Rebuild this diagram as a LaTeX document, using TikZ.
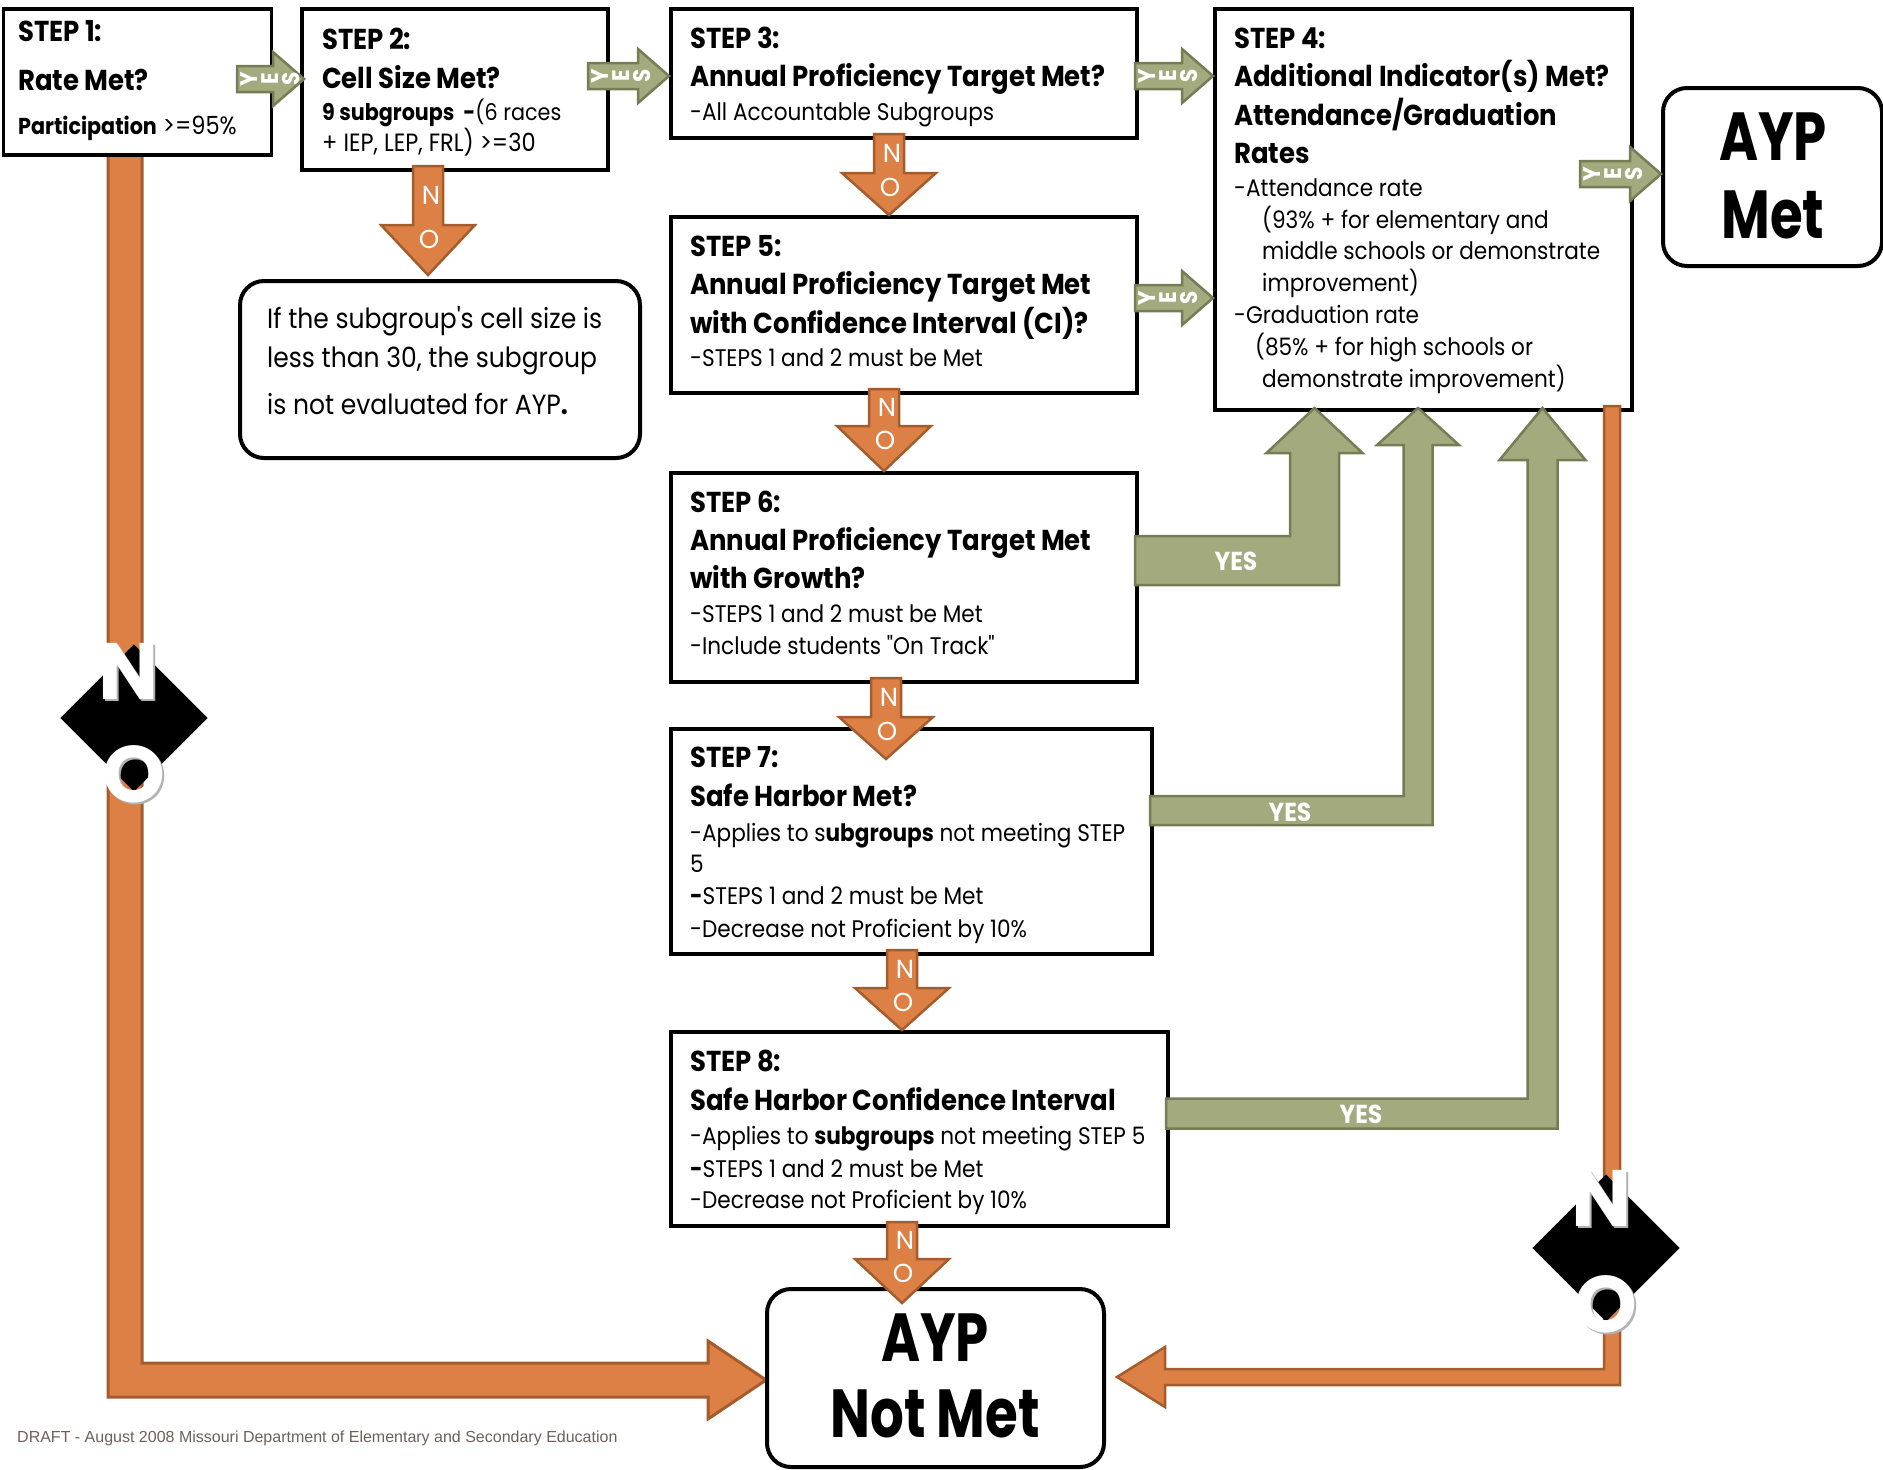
\documentclass[tikz,border=0pt]{standalone}
\usepackage{fontspec}
\setmainfont{Poppins}[FakeStretch=0.9]
\newfontfamily\plainf{Poppins}[FakeStretch=0.9]
\newfontfamily\bigf{Poppins}[FakeStretch=0.78]
\newfontfamily\nof{Poppins}
\newfontfamily\ftf{Liberation Sans}
\usetikzlibrary{calc}
\definecolor{grn}{RGB}{163,170,126}
\definecolor{grnd}{RGB}{118,124,86}
\definecolor{org}{RGB}{221,128,70}
\definecolor{orgd}{RGB}{165,92,44}
\definecolor{ftc}{RGB}{112,96,88}
\tikzset{
 box/.style={draw=black, line width=3.5pt, fill=white, anchor=north west, inner sep=0},
 rbox/.style={box, rounded corners=24pt, line width=4pt},
 hd/.style={anchor=base west, inner sep=0, font=\fontsize{28.8}{34}\selectfont\bfseries},
 hds/.style={anchor=base west, inner sep=0, font=\fontsize{23}{28}\selectfont},
 tx/.style={anchor=base west, inner sep=0, font=\fontsize{24}{28}\selectfont},
 nt/.style={anchor=base west, inner sep=0, font=\fontsize{27.8}{32}\selectfont},
 big/.style={anchor=base, inner sep=0, font=\bigf\fontsize{68}{70}\selectfont\bfseries},
 noar/.style={fill=org, draw=orgd, line width=2.5pt, line join=miter},
 yesar/.style={fill=grn, draw=grnd, line width=2.5pt, line join=miter},
 nolbl/.style={text=white, inner sep=0, font=\nof\fontsize{26}{26}\selectfont},
 yl/.style={rotate=90, text=white, inner sep=0, font=\fontsize{24}{24}\selectfont\bfseries},
 ylbig/.style={text=white, inner sep=0, font=\fontsize{26}{26}\selectfont\bfseries},
 dia/.style={fill=black, rotate=45, minimum size=104pt, inner sep=0},
 bigno/.style={text=white, inner sep=0, font=\nof\fontsize{80}{80}\selectfont\bfseries},
 bignosh/.style={text=black!30, inner sep=0, font=\nof\fontsize{80}{80}\selectfont\bfseries},
}
% small NO down arrow: start, tip, head length
\newcommand\noarrow[3]{%
 \filldraw[noar] let \p1=(#1), \p2=(#2) in
  (\x1-15pt,\y1) -- (\x1+15pt,\y1) -- (\x1+15pt,\y2+#3pt) -- (\x1+47pt,\y2+#3pt)
  -- (\x1,\y2) -- (\x1-47pt,\y2+#3pt) -- (\x1-15pt,\y2+#3pt) -- cycle
  (\x1+3pt,{(\y1+\y2+#3pt)/2}) node[nolbl]{N}
  (\x1+1pt,\y2+#3pt-14pt) node[nolbl]{O};}
% small YES right arrow: start, tip
\newcommand\yesarrow[2]{%
 \filldraw[yesar] let \p1=(#1), \p2=(#2) in
  (\x1,\y1+13pt) -- (\x2-31pt,\y1+13pt) -- (\x2-31pt,\y1+27pt) -- (\x2,\y1)
  -- (\x2-31pt,\y1-27pt) -- (\x2-31pt,\y1-13pt) -- (\x1,\y1-13pt) -- cycle
  (\x1+12pt,\y1) node[yl]{Y} (\x1+33pt,\y1) node[yl]{E} (\x1+54pt,\y1) node[yl]{S};}
% big YES L arrow: start, tip, half width, head half, head length
\newcommand\yesL[5]{%
 \filldraw[yesar] let \p1=(#1), \p2=(#2) in
  (\x1,\y1+#3pt) -- (\x2-#3pt,\y1+#3pt) -- (\x2-#3pt,\y2-#5pt) -- (\x2-#4pt,\y2-#5pt)
  -- (\x2,\y2) -- (\x2+#4pt,\y2-#5pt) -- (\x2+#3pt,\y2-#5pt) -- (\x2+#3pt,\y1-#3pt)
  -- (\x1,\y1-#3pt) -- cycle;}
\begin{document}
\begin{tikzpicture}[x=1pt,y=-1pt]
\useasboundingbox (0,0) rectangle (1883,1470);

% connector coordinates
\coordinate (nLa) at (125,151);  \coordinate (nLb) at (766,1380);
\coordinate (nRa) at (1612,406); \coordinate (nRb) at (1117,1377);

% big orange NO path (left)
\filldraw[noar, line width=3pt] let \p1=(nLa), \p2=(nLb) in
  (\x1-17pt,\y1) -- (\x1+17pt,\y1) -- (\x1+17pt,\y2+17pt) -- (\x2-58pt,\y2+17pt)
  -- (\x2-58pt,\y2+39pt) -- (\x2,\y2) -- (\x2-58pt,\y2-39pt) -- (\x2-58pt,\y2-17pt)
  -- (\x1-17pt,\y2-17pt) -- cycle;

% boxes
\node[box, minimum width=268pt, minimum height=146pt] (s1) at (1.75,7) {};
\node[box, minimum width=306pt, minimum height=161pt] (s2) at (300,7) {};
\node[box, minimum width=466pt, minimum height=129pt] (s3) at (669,7) {};
\node[box, minimum width=417pt, minimum height=401pt] (s4) at (1213,7) {};
\node[box, minimum width=466pt, minimum height=176pt] (s5) at (669,215) {};
\node[rbox, minimum width=400pt, minimum height=177pt] (note) at (238,279) {};
\node[box, minimum width=466pt, minimum height=209pt] (s6) at (669,471) {};
\node[box, minimum width=481pt, minimum height=225pt] (s7) at (669,727) {};
\node[box, minimum width=497pt, minimum height=194pt] (s8) at (669,1030) {};
\node[rbox, minimum width=219pt, minimum height=178pt] (met) at (1661,86) {};
\node[rbox, minimum width=337pt, minimum height=178pt] (notmet) at (765,1287) {};

% step 1
\node[hd] (t1a) at (18,41) {STEP 1:};
\node[hd] (t1b) at (18,90) {Rate Met?};
\node[hds] (t1c) at (18,134) {\bfseries Participation\mdseries\fontsize{25}{28}\selectfont\ >=95\%};
% step 2
\node[hd] (t2a) at (322,49) {STEP 2:};
\node[hd] (t2b) at (322,88) {Cell Size Met?};
\node[hds] (t2c) at (322,120) {\bfseries 9 subgroups\ \ -\mdseries(6 races};
\node[hds, font=\fontsize{25}{28}\selectfont] (t2d) at (322,151) {+ IEP, LEP, FRL) >=30};
% step 3
\node[hd] (t3a) at (690,48) {STEP 3:};
\node[hd] (t3b) at (690,86) {Annual Proficiency Target Met?};
\node[tx] (t3c) at (690,120) {-All Accountable Subgroups};
% step 4
\node[hd] (t4a) at (1234,48) {STEP 4:};
\node[hd] (t4b) at (1234,86) {Additional Indicator(s) Met?};
\node[hd] (t4c) at (1234,125) {Attendance/Graduation};
\node[hd] (t4d) at (1234,163) {Rates};
\node[tx] (t4e) at (1234,196) {-Attendance rate};
\node[tx] (t4f) at (1262,228) {(93\% + for elementary and};
\node[tx] (t4g) at (1262,259) {middle schools or demonstrate};
\node[tx] (t4h) at (1262,291) {improvement)};
\node[tx] (t4i) at (1234,323) {-Graduation rate};
\node[tx] (t4j) at (1255,355) {(85\% + for high schools or};
\node[tx] (t4k) at (1262,387) {demonstrate improvement)};
% step 5
\node[hd] (t5a) at (690,256) {STEP 5:};
\node[hd] (t5b) at (690,294) {Annual Proficiency Target Met};
\node[hd] (t5c) at (690,333) {with Confidence Interval (CI)?};
\node[tx] (t5d) at (690,366) {-STEPS 1 and 2 must be Met};
% step 6
\node[hd] (t6a) at (690,512) {STEP 6:};
\node[hd] (t6b) at (690,550) {Annual Proficiency Target Met};
\node[hd] (t6c) at (690,588) {with Growth?};
\node[tx] (t6d) at (690,622) {-STEPS 1 and 2 must be Met};
\node[tx] (t6e) at (690,654) {-Include students {\plainf"}On Track{\plainf"}};
% step 7
\node[hd] (t7a) at (690,767) {STEP 7:};
\node[hd] (t7b) at (690,806) {Safe Harbor Met?};
\node[tx] (t7c) at (690,841) {-Applies to s{\bfseries ubgroups} not meeting STEP};
\node[tx] (t7d) at (690,872) {5};
\node[tx] (t7e) at (690,904) {{\bfseries -}STEPS 1 and 2 must be Met};
\node[tx] (t7f) at (690,937) {-Decrease not Proficient by 10\%};
% step 8
\node[hd] (t8a) at (690,1071) {STEP 8:};
\node[hd] (t8b) at (690,1110) {Safe Harbor Confidence Interval};
\node[tx] (t8c) at (690,1144) {-Applies to {\bfseries subgroups} not meeting STEP 5};
\node[tx] (t8d) at (690,1177) {{\bfseries -}STEPS 1 and 2 must be Met};
\node[tx] (t8e) at (690,1208) {-Decrease not Proficient by 10\%};
% note
\node[nt] (na) at (267,328) {If the subgroup{\plainf'}s cell size is};
\node[nt] (nb) at (267,367) {less than 30, the subgroup};
\node[nt] (nc) at (267,414) {is not evaluated for AYP{\bfseries .}};
% outcomes
\node[big] (ma) at (1773,160) {AYP};
\node[big] (mb) at (1773,238) {Met};
\node[big] (nma) at (935,1361) {AYP};
\node[big] (nmb) at (935,1437) {Not Met};
% footer
\node[anchor=base west, inner sep=0, text=ftc, font=\ftf\fontsize{16}{17}\selectfont] (ft) at (17,1442)
  {DRAFT - August 2008 Missouri Department of Elementary and Secondary Education};

% small NO arrows
\coordinate (n2a) at (428,166);  \coordinate (n2b) at (428,275);
\coordinate (n3a) at (889,134);  \coordinate (n3b) at (889,215);
\coordinate (n5a) at (884,389);  \coordinate (n5b) at (884,471);
\coordinate (n6a) at (886,678);  \coordinate (n6b) at (886,759);
\coordinate (n7a) at (902,950);  \coordinate (n7b) at (902,1030);
\coordinate (n8a) at (902,1222); \coordinate (n8b) at (902,1303);
\noarrow{n2a}{n2b}{50}
\noarrow{n3a}{n3b}{42}
\noarrow{n5a}{n5b}{45}
\noarrow{n6a}{n6b}{42}
\noarrow{n7a}{n7b}{42}
\noarrow{n8a}{n8b}{44}

% small YES arrows
\coordinate (y12a) at (237,79);  \coordinate (y12b) at (304,79);
\coordinate (y23a) at (588,76);  \coordinate (y23b) at (669,76);
\coordinate (y34a) at (1135,76); \coordinate (y34b) at (1213,76);
\coordinate (y54a) at (1135,298);\coordinate (y54b) at (1213,298);
\coordinate (y4ma) at (1580,174);\coordinate (y4mb) at (1661,174);
\yesarrow{y12a}{y12b}
\yesarrow{y23a}{y23b}
\yesarrow{y34a}{y34b}
\yesarrow{y54a}{y54b}
\yesarrow{y4ma}{y4mb}

% big YES arrows
\coordinate (g6a) at (1135,560.5); \coordinate (g6b) at (1314.5,408);
\coordinate (g7a) at (1150,810.5); \coordinate (g7b) at (1418,408);
\coordinate (g8a) at (1166,1113.5);\coordinate (g8b) at (1542.5,408);
\yesL{g6a}{g6b}{24.5}{48}{45}
\yesL{g7a}{g7b}{14.5}{41}{37}
\yesL{g8a}{g8b}{15}{43}{52}
\node[ylbig] (yes6) at (1236,561) {YES};
\node[ylbig] (yes7) at (1290,812) {YES};
\node[ylbig] (yes8) at (1361,1114) {YES};

% right orange NO path
\filldraw[noar] let \p1=(nRa), \p2=(nRb) in
  (\x1+8pt,\y1) -- (\x1-8pt,\y1) -- (\x1-8pt,\y2+8pt) -- (\x2+48pt,\y2+8pt)
  -- (\x2+48pt,\y2+30pt) -- (\x2,\y2) -- (\x2+48pt,\y2-30pt) -- (\x2+48pt,\y2-8pt)
  -- (\x1+8pt,\y2-8pt) -- cycle;

% diamonds
\node[dia] (d1) at (134,718) {};
\node[dia] (d2) at (1606,1248) {};
\node[bignosh] at (131,673) {N};
\node[bignosh] at (136,776) {O};
\node[bigno] (d1n) at (129,671) {N};
\node[bigno] (d1o) at (134,774) {O};
\node[bignosh] at (1604,1200) {N};
\node[bignosh] at (1608,1306) {O};
\node[bigno] (d2n) at (1602,1198) {N};
\node[bigno] (d2o) at (1606,1304) {O};
\end{tikzpicture}
\end{document}
